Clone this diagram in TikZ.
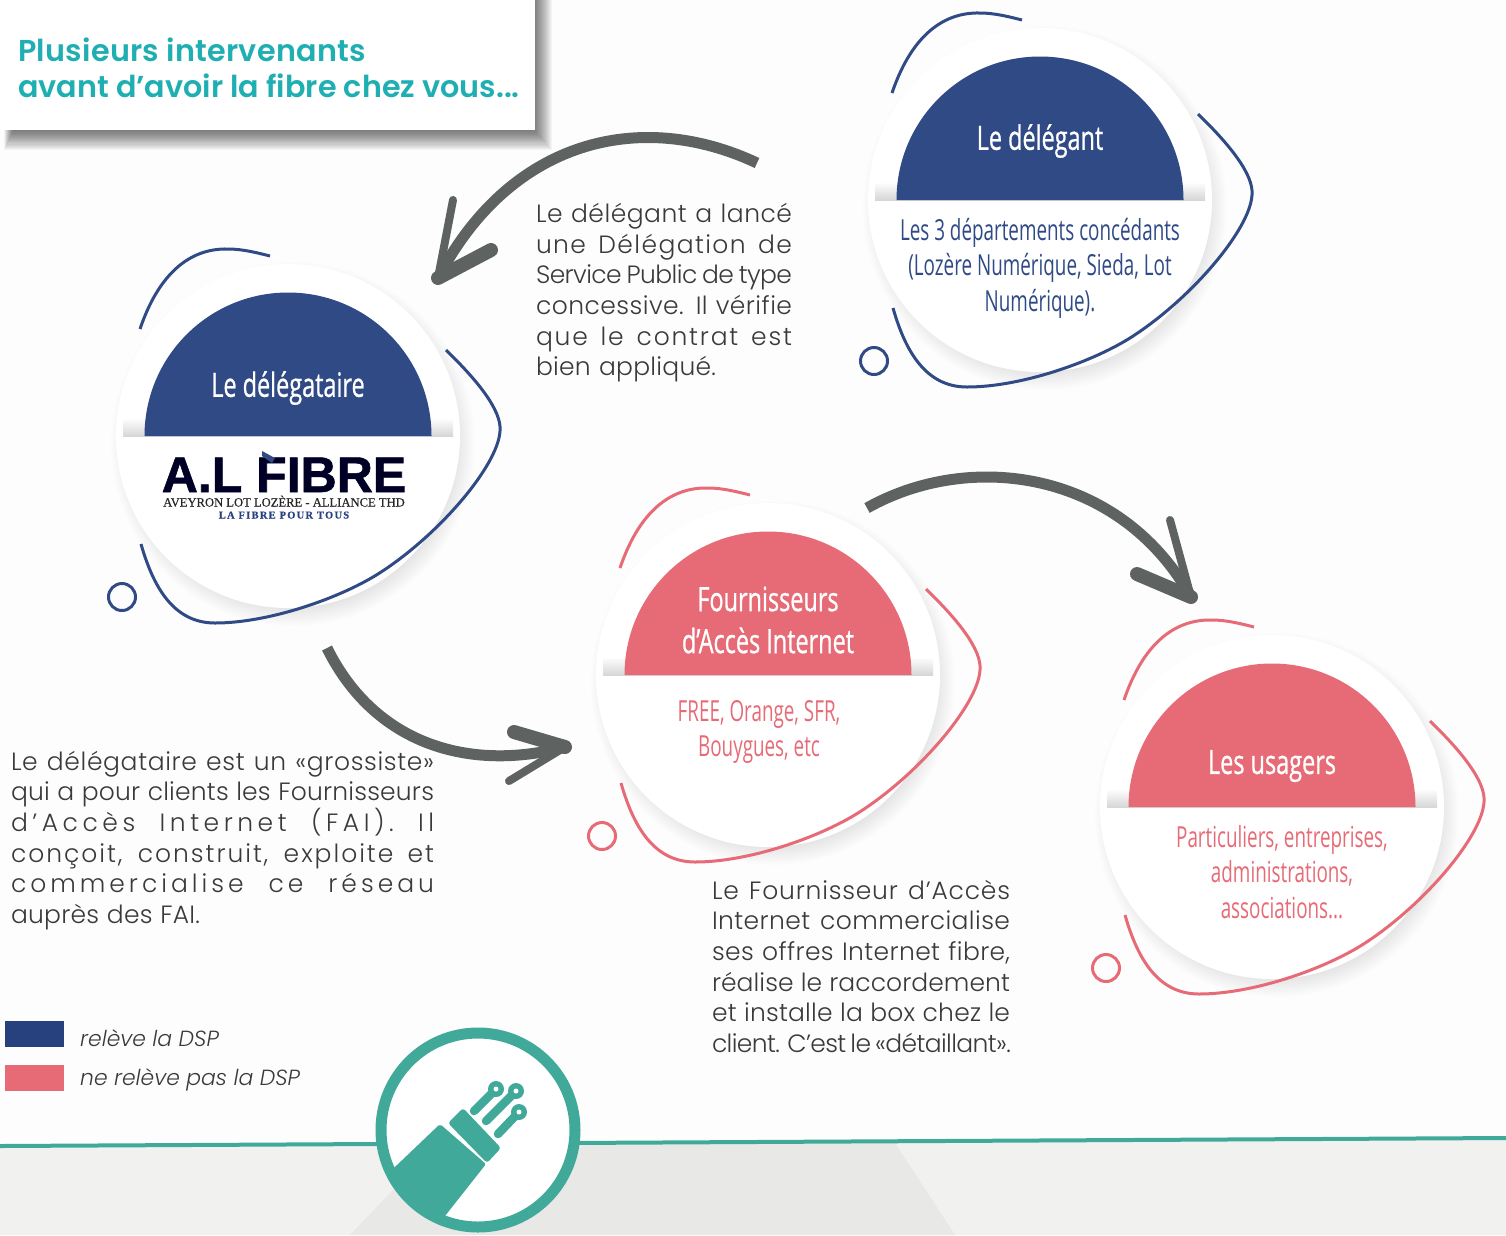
\documentclass[tikz,border=0pt]{standalone}
\usepackage{fontspec}
\usepackage{xstring}
\setmainfont{Poppins}
\newfontfamily\bodyf{Poppins Light}
\newfontfamily\titlef{Poppins}[UprightFont=* SemiBold]
\newfontfamily\hdrf[FakeStretch=0.7,FakeBold=0.7]{Open Sans}
\newfontfamily\condf[FakeStretch=0.65]{Open Sans}
\newfontfamily\logof[FakeBold=1.2]{Liberation Sans}[UprightFont=* Bold]
\newfontfamily\logos[FakeBold=0.4]{Liberation Serif}
\usetikzlibrary{calc}
\definecolor{paper}{HTML}{FDFDFD}
\definecolor{navy}{HTML}{2F4A85}
\definecolor{navytxt}{HTML}{27407E}
\definecolor{rose}{HTML}{E66B76}
\definecolor{teal1}{HTML}{41A99A}
\definecolor{titlec}{HTML}{1FAFB2}
\definecolor{arrowc}{HTML}{5E6261}
\definecolor{inkc}{HTML}{3A3A3A}
\definecolor{bandl}{HTML}{F1F1F0}
\definecolor{bandd}{HTML}{E8E8E7}
\newcommand{\fitline}[2]{%
  \setbox0=\hbox{#2}\StrLen{#2}[\mylen]%
  \pgfmathsetmacro\myls{(#1-\the\wd0)/\mylen/25*100*0.85}%
  \hbox to #1{\addfontfeature{LetterSpace=\myls}#2}}
\tikzset{
  conn/.style={draw=arrowc,line width=11pt},
  barbthin/.style={draw=arrowc,line width=8pt,line cap=round},
  barbthick/.style={draw=arrowc,line width=14pt,line cap=round},
  para/.style={anchor=north west,inner sep=0pt,outer sep=0pt,align=left,text=inkc,font=\bodyf\fontsize{25}{30.6}\selectfont},
  legendt/.style={anchor=base west,inner sep=0pt,text=inkc,font=\bodyf\itshape\fontsize{21.9}{26}\selectfont},
  hdr/.style={inner sep=0pt,text=white,align=center,font=\hdrf\fontsize{33.5}{42}\selectfont},
  subt/.style={inner sep=0pt,align=center,font=\condf\fontsize{29}{35.5}\selectfont},
}
\newcommand{\bubble}[6]{%
  \begin{scope}[shift={(#2,#3)}]
    \foreach \k in {0,...,11}{\fill[black,opacity=.009] (5,8) circle[radius={174-\k*1.6+8}];}
    \fill[white] (0,0) circle[radius=172];
    \shade[top color=white,bottom color=black!16] (-165,-18) rectangle (165,0);
    \fill[#4] (-143.5,0) arc[start angle=180,end angle=360,radius=143.5] -- cycle;
    \draw[#4,line width=3pt] (-148,-107) .. controls (-130,-160) and (-100,-188) .. (-60,-187) .. controls (-45,-187) and (-30,-183) .. (-18,-180);
    \draw[#4,line width=3pt] (158,-86) .. controls (190,-55) and (214,-25) .. (212,-5) .. controls (210,30) and (150,100) .. (90,138) .. controls (50,163) and (-20,187) .. (-73,187) .. controls (-115,187) and (-135,150) .. (-147,108);
    \draw[#4,line width=3pt] (-166,161) circle[radius=13.5];
    \node[hdr] (#1) at (0,#5) {#6};
  \end{scope}}
\begin{document}
\begin{tikzpicture}[x=1pt,y=-1pt]
\useasboundingbox (0,0) rectangle (1506,1235);
\fill[paper] (0,0) rectangle (1506,1235);
% bottom band
\fill[bandl] (0,1146) -- (1506,1138) -- (1506,1235) -- (0,1235) -- cycle;
\fill[bandd] (350,1235) -- (435,1146) -- (895,1143) -- (955,1235) -- cycle;
\draw[teal1,line width=4pt] (0,1146) -- (1506,1138);
% title box
\foreach \k in {0,...,17}{\fill[black,opacity=.035] (4+\k*.5,-10) rectangle ({552-\k},{150-\k*1.1});}
\fill[white] (0,0) rectangle (535,130);
\node[anchor=base west,inner sep=0pt,text=titlec,font=\titlef\fontsize{30.2}{36}\selectfont] (titre1) at (18,61) {\addfontfeature{LetterSpace=0.9}Plusieurs intervenants};
\node[anchor=base west,inner sep=0pt,text=titlec,font=\titlef\fontsize{30.2}{36}\selectfont] (titre2) at (18,97) {avant d’avoir la fibre chez vous...};
% bubbles
\bubble{delegant}{1040}{200}{navy}{-59}{Le délégant}
\bubble{delegataire}{288}{436}{navy}{-48}{Le délégataire}
\bubble{fai}{768}{675}{rose}{-55}{Fournisseurs\\d’Accès Internet}
\bubble{usagers}{1272}{807}{rose}{-41}{Les usagers}
\node[subt,text=navy] (delegantsub) at (1040,268) {Les 3 départements concédants\\(Lozère Numérique, Sieda, Lot\\Numérique).};
\node[subt,text=rose] (faisub) at (759,732) {FREE, Orange, SFR,\\Bouygues, etc};
\node[subt,text=rose] (usagerssub) at (1282,872) {Particuliers, entreprises,\\administrations,\\associations...};
% logo
\node[anchor=base,inner sep=0pt,text=black!85!blue,font=\logof\fontsize{50}{50}\selectfont] (logo) at (284,492) {A.L FIBRE};
\fill[white] (255,448) rectangle (280,453);
\fill[navy] (262,451) -- (275,458) -- (272,463) -- (262,456) -- cycle;
\node[anchor=base,inner sep=0pt,text=black!85,font=\logos\fontsize{12.6}{14}\selectfont] (logo2) at (284,506.5) {AVEYRON LOT LOZÈRE - ALLIANCE THD};
\node[anchor=base,inner sep=0pt,text=navytxt,font=\logos\bfseries\fontsize{10.5}{12}\selectfont] (logo3) at (284,518.5) {\addfontfeature{LetterSpace=12}LA FIBRE POUR TOUS};
% paragraphs
\node[para] (p1) at (536,203.5) {\fitline{256pt}{Le délégant a lancé}\\\fitline{256pt}{une Délégation de}\\\fitline{256pt}{Service Public de type}\\\fitline{256pt}{concessive. Il vérifie}\\\fitline{256pt}{que le contrat est}\\\fitline{180pt}{bien appliqué.}};
\node[para] (p2) at (11,751) {\fitline{423pt}{Le délégataire est un «grossiste»}\\\fitline{423pt}{qui a pour clients les Fournisseurs}\\\fitline{423pt}{d’Accès Internet (FAI). Il}\\\fitline{423pt}{conçoit, construit, exploite et}\\\fitline{423pt}{commercialise ce réseau}\\\fitline{189pt}{auprès des FAI.}};
\node[para] (p3) at (712,880) {\fitline{298pt}{Le Fournisseur d’Accès}\\\fitline{298pt}{Internet commercialise}\\\fitline{298pt}{ses offres Internet fibre,}\\\fitline{298pt}{réalise le raccordement}\\\fitline{298pt}{et installe la box chez le}\\\fitline{298pt}{client. C’est le «détaillant».}};
% arrows
\coordinate (a1s) at (757,163);\coordinate (a1e) at (438,278);
\coordinate (a1b) at (453,200);\coordinate (a1c) at (491,250);
\draw[conn] (a1s) .. controls (640,108) and (510,140) .. (a1e);
\draw[barbthin] (a1e) -- (a1b);
\draw[barbthick] (a1e) -- (a1c);
\coordinate (a2s) at (327,648);\coordinate (a2e) at (565,747);
\coordinate (a2b) at (514,732);\coordinate (a2c) at (509,781);
\draw[conn] (a2s) .. controls (375,745) and (470,772) .. (a2e);
\draw[barbthick] (a2e) -- (a2b);
\draw[barbthin] (a2e) -- (a2c);
\coordinate (a3s) at (867,508);\coordinate (a3e) at (1191,597);
\coordinate (a3b) at (1170,520);\coordinate (a3c) at (1137,574);
\draw[conn] (a3s) .. controls (970,450) and (1120,470) .. (a3e);
\draw[barbthin] (a3e) -- (a3b);
\draw[barbthick] (a3e) -- (a3c);
% legend
\fill[navytxt] (5,1021) rectangle (64,1047);
\fill[rose] (5,1065) rectangle (64,1091);
\node[legendt] (l1) at (80,1046) {relève la DSP};
\node[legendt] (l2) at (80,1085) {ne relève pas la DSP};
% icon
\fill[white] (478,1130) circle[radius=97];
\begin{scope}
  \clip (478,1130) circle[radius=97];
  \fill[teal1,rounded corners=2pt] (440,1124) -- (486,1164) -- (430,1235) -- (370,1190) -- (397,1165) -- cycle;
\end{scope}
\draw[teal1,line width=11pt] (478,1130) circle[radius=97];
\fill[teal1,rounded corners=3pt] (448,1123) -- (463,1108) -- (501,1148) -- (487,1163) -- cycle;
\draw[teal1,line width=8.5pt,line cap=round] (474,1111) -- (496,1089);
\draw[teal1,line width=8.5pt,line cap=round] (486,1121) -- (516,1091);
\draw[teal1,line width=8.5pt,line cap=round] (498,1134) -- (519,1112);
\foreach \cx/\cy in {496/1089,516/1091,519/1112}{\fill[teal1] (\cx,\cy) circle[radius=8]; \fill[white] (\cx,\cy) circle[radius=2.5];}
\end{tikzpicture}
\end{document}
